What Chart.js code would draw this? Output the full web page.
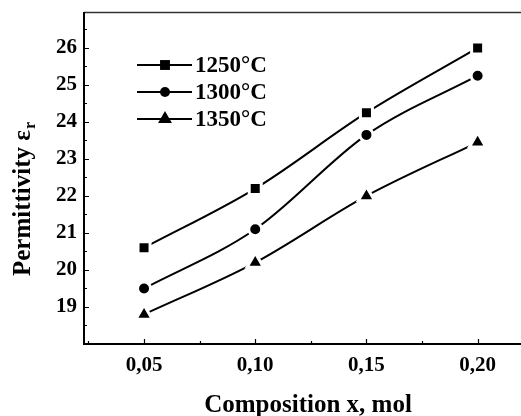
<!DOCTYPE html>
<html>
<head>
<meta charset="utf-8">
<script src="https://cdn.jsdelivr.net/npm/chart.js@4"></script>
<style>
  html, body { margin: 0; padding: 0; background: #fff; }
  canvas { display: block; }
</style>
</head>
<body>
<canvas id="permChart" width="521" height="416"></canvas>
<script>
// Chart data
const compositions = [0.05, 0.10, 0.15, 0.20];
const eps1250 = [20.6, 22.2, 24.25, 26.0];
const eps1300 = [19.5, 21.1, 23.65, 25.25];
const eps1350 = [18.8, 20.2, 22.0, 23.45];
const seriesLabels = ["1250°C", "1300°C", "1350°C"];
const xTickValues = [0.05, 0.10, 0.15, 0.20];
const yTickValues = [19, 20, 21, 22, 23, 24, 25, 26];

const SERIF = '"Liberation Serif", "Times New Roman", serif';
const pointStyles = ["rect", "circle", "triangle"];
const pointRadii = [8.5, 6.5, 9.5];

function toPoints(values) {
    return compositions.map((x, i) => ({ x: x, y: values[i] }));
}

function makeDataset(label, values, idx) {
    return {
        label: label,
        data: toPoints(values),
        borderColor: "#000",
        borderWidth: 2,
        backgroundColor: "#000",
        pointStyle: pointStyles[idx],
        pointRadius: pointRadii[idx],
        pointBackgroundColor: "#000",
        pointBorderColor: "#fff",
        pointBorderWidth: 3,
        cubicInterpolationMode: "monotone",
        fill: false
    };
}

// no extra label padding, so the plot box stays where the figure has it
function zeroPadding(scale) {
    scale.paddingLeft = 0;
    scale.paddingRight = 0;
    scale.paddingTop = 0;
    scale.paddingBottom = 0;
}

// Draws axes frame, inward ticks, titles and the in-plot legend
const decorPlugin = {
    id: "decor",
    afterDraw(chart) {
        const ctx = chart.ctx;
        const area = chart.chartArea;
        const xs = chart.scales.x;
        const ys = chart.scales.y;
        ctx.save();

        // top frame line
        ctx.strokeStyle = "#333";
        ctx.lineWidth = 1.5;
        ctx.beginPath();
        ctx.moveTo(area.left, area.top + 0.5);
        ctx.lineTo(area.right, area.top + 0.5);
        ctx.stroke();

        // left and bottom axes
        ctx.strokeStyle = "#000";
        ctx.lineWidth = 2;
        ctx.beginPath();
        ctx.moveTo(area.left, area.top);
        ctx.lineTo(area.left, area.bottom);
        ctx.lineTo(area.right, area.bottom);
        ctx.stroke();

        // inward ticks
        ctx.lineWidth = 1.2;
        ctx.beginPath();
        for (let v = 18.5; v <= ys.max; v += 0.5) {
            const y = Math.round(ys.getPixelForValue(v)) + 0.5;
            const len = Number.isInteger(v) ? 5 : 3;
            ctx.moveTo(area.left, y);
            ctx.lineTo(area.left + len, y);
        }
        for (let k = 1; k * 0.025 <= xs.max; k++) {
            const x = Math.round(xs.getPixelForValue(k * 0.025)) + 0.5;
            const len = k % 2 === 0 ? 5 : 3;
            ctx.moveTo(x, area.bottom);
            ctx.lineTo(x, area.bottom - len);
        }
        ctx.stroke();

        // x axis title
        ctx.fillStyle = "#000";
        ctx.font = "bold 25px " + SERIF;
        ctx.textAlign = "center";
        ctx.textBaseline = "alphabetic";
        ctx.fillText("Composition x, mol", 308, 412);

        // y axis title with subscript r
        ctx.save();
        ctx.translate(22, 199);
        ctx.rotate(-Math.PI / 2);
        const main = "Permittivity ε";
        ctx.font = "bold 25px " + SERIF;
        const wMain = ctx.measureText(main).width;
        ctx.font = "bold 16px " + SERIF;
        const wSub = ctx.measureText("r").width;
        const start = -(wMain + wSub + 1) / 2;
        ctx.textAlign = "left";
        ctx.textBaseline = "alphabetic";
        ctx.font = "bold 25px " + SERIF;
        ctx.fillText(main, start, 8);
        ctx.font = "bold 16px " + SERIF;
        ctx.fillText("r", start + wMain + 1, 13);
        ctx.restore();

        // legend
        const rows = [65, 92, 119];
        chart.data.datasets.forEach((ds, i) => {
            const y = rows[i];
            ctx.strokeStyle = "#000";
            ctx.lineWidth = 2;
            ctx.beginPath();
            ctx.moveTo(137, y);
            ctx.lineTo(192, y);
            ctx.stroke();
            ctx.fillStyle = "#000";
            Chart.helpers.drawPoint(ctx, {
                pointStyle: ds.pointStyle,
                radius: ds.pointRadius - 1.5,
                borderWidth: 0,
                rotation: 0
            }, 165, y);
            ctx.fillStyle = "#000";
            ctx.font = "bold 23px " + SERIF;
            ctx.textAlign = "left";
            ctx.textBaseline = "middle";
            ctx.fillText(ds.label, 195, y + 1);
        });

        ctx.restore();
    }
};

const ctx = document.getElementById("permChart").getContext("2d");
new Chart(ctx, {
    type: "line",
    data: {
        datasets: [
            makeDataset(seriesLabels[0], eps1250, 0),
            makeDataset(seriesLabels[1], eps1300, 1),
            makeDataset(seriesLabels[2], eps1350, 2)
        ]
    },
    options: {
        responsive: false,
        animation: false,
        layout: {
            autoPadding: false,
            padding: { top: 12, right: 0, left: 0, bottom: 0 }
        },
        plugins: {
            legend: { display: false },
            tooltip: { enabled: false }
        },
        scales: {
            x: {
                type: "linear",
                min: 0.023,
                max: 0.2195,
                grid: { display: false, drawTicks: false },
                border: { display: false },
                afterBuildTicks: scale => {
                    scale.ticks = xTickValues.map(v => ({ value: v }));
                },
                afterFit: scale => {
                    scale.height = 72;
                    zeroPadding(scale);
                },
                ticks: {
                    padding: 9,
                    color: "#000",
                    maxRotation: 0,
                    font: { family: SERIF, size: 21, weight: "bold" },
                    callback: v => v.toFixed(2).replace(".", ",")
                }
            },
            y: {
                min: 18,
                max: 26.97,
                grid: { display: false, drawTicks: false },
                border: { display: false },
                afterBuildTicks: scale => {
                    scale.ticks = yTickValues.map(v => ({ value: v }));
                },
                afterFit: scale => {
                    scale.width = 84;
                    zeroPadding(scale);
                },
                ticks: {
                    padding: 7,
                    color: "#000",
                    font: { family: SERIF, size: 21, weight: "bold" },
                    callback: v => String(v)
                }
            }
        }
    },
    plugins: [decorPlugin]
});
</script>
</body>
</html>
